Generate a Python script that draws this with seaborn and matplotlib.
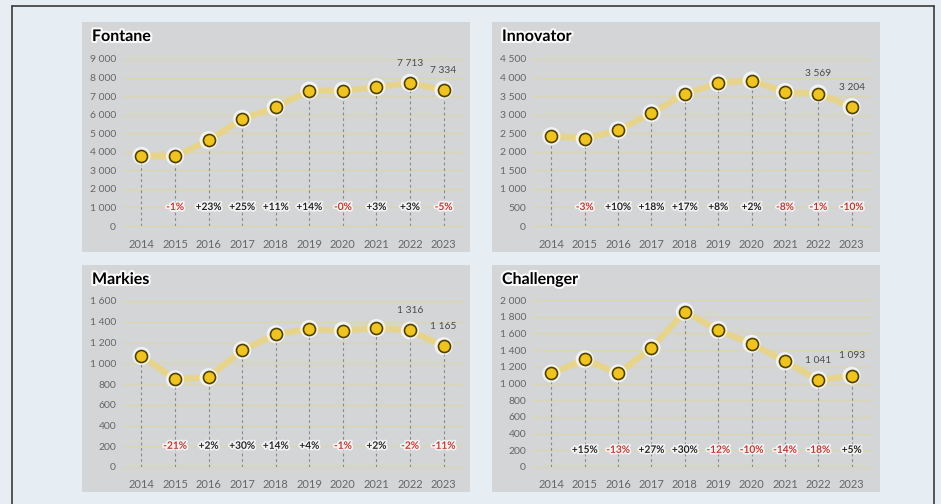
import pandas as pd
import matplotlib
matplotlib.use("Agg")
import matplotlib.pyplot as plt
import matplotlib.patheffects as pe
from matplotlib.patches import Rectangle
from matplotlib.lines import Line2D
import seaborn as sns

# data
years = [2014, 2015, 2016, 2017, 2018, 2019, 2020, 2021, 2022, 2023]
fontane = [3780, 3750, 4620, 5770, 6400, 7300, 7290, 7490, 7713, 7334]
innovator = [2420, 2350, 2580, 3040, 3560, 3850, 3920, 3610, 3569, 3204]
markies = [1070, 845, 865, 1125, 1280, 1330, 1315, 1340, 1316, 1165]
challenger = [1120, 1290, 1120, 1425, 1860, 1640, 1475, 1265, 1041, 1093]

fontane_pct = ["", "-1%", "+23%", "+25%", "+11%", "+14%", "-0%", "+3%", "+3%", "-5%"]
innovator_pct = ["", "-3%", "+10%", "+18%", "+17%", "+8%", "+2%", "-8%", "-1%", "-10%"]
markies_pct = ["", "-21%", "+2%", "+30%", "+14%", "+4%", "-1%", "+2%", "-2%", "-11%"]
challenger_pct = ["", "+15%", "-13%", "+27%", "+30%", "-12%", "-10%", "-14%", "-18%", "+5%"]

sns.set_theme(style="white")
plt.rcParams['font.family'] = ['Lato', 'DejaVu Sans']

W, H = 941, 504
fig = plt.figure(figsize=(W / 100, H / 100), dpi=100)
fig.patch.set_facecolor("#e7eef3")

def fx(x):
    return x / W

def fy(y):
    return 1 - y / H

# outer frame
for xs, ys in [([12, 12], [6, 504]), ([12, 934], [6, 6]), ([934, 934], [6, 504])]:
    fig.add_artist(Line2D([fx(v) for v in xs], [fy(v) for v in ys], color="#3a3a3a", lw=1.2))

panels = [
    # name, values, pct, ymax, step, pct_y, panel box (px), axes box (px)
    ("Fontane", fontane, fontane_pct, 9000, 1000, 1000, (82, 22, 470, 252), (123, 59, 462, 226)),
    ("Innovator", innovator, innovator_pct, 4500, 500, 500, (492, 22, 880, 252), (533, 59, 870, 226)),
    ("Markies", markies, markies_pct, 1600, 200, 200, (82, 265, 470, 492), (123, 301, 462, 467)),
    ("Challenger", challenger, challenger_pct, 2000, 200, 200, (492, 265, 880, 492), (533, 300, 870, 467)),
]

glow = [pe.withStroke(linewidth=2.5, foreground="white", alpha=0.7)]

for name, vals, pct, ymax, step, pct_y, pbox, abox in panels:
    x0, y0, x1, y1 = pbox
    fig.add_artist(Rectangle((fx(x0), fy(y1)), fx(x1 - x0), (y1 - y0) / H,
                             facecolor="#d3d5d7", edgecolor="none", zorder=0))
    fig.text(fx(x0 + 10), fy(y0 + 15), name, fontsize=11.5, fontweight="bold",
             color="black", va="center", ha="left",
             path_effects=[pe.withStroke(linewidth=3, foreground="white", alpha=0.9)])

    a0, b0, a1, b1 = abox
    ax = fig.add_axes([fx(a0), fy(b1), fx(a1 - a0), (b1 - b0) / H])
    ax.set_facecolor("none")

    df = pd.DataFrame({"pos": range(len(years)), "value": vals})

    ticks = list(range(0, ymax + 1, step))
    for t in ticks:
        ax.axhline(t, color="#dcd5b0", lw=1.0, zorder=1, clip_on=False)

    ax.vlines(df["pos"], 0, df["value"], colors="#8a8a8a", linestyles=(0, (2.5, 2.5)),
              lw=0.8, zorder=2)

    sns.lineplot(data=df, x="pos", y="value", ax=ax, color="#e9d488", lw=4.5,
                 alpha=0.95, zorder=3)
    sns.scatterplot(data=df, x="pos", y="value", ax=ax, s=170, color="white",
                    edgecolor="none", alpha=0.7, zorder=4, legend=False)
    sns.scatterplot(data=df, x="pos", y="value", ax=ax, s=75, color="#f0c420",
                    edgecolor="#504100", linewidth=1.2, zorder=5, legend=False)

    for i, p in enumerate(pct):
        if p:
            col = "#c0302a" if p.startswith("-") else "#1a1a1a"
            ax.text(i, pct_y, p, ha="center", va="center", fontsize=7.3, color=col,
                    fontweight="semibold", path_effects=glow, zorder=6)

    for i in (8, 9):
        ax.annotate(f"{vals[i]:,}".replace(",", " "), (i, vals[i]), xytext=(0, 11),
                    textcoords="offset points", ha="center", va="bottom",
                    fontsize=7.3, color="#4a4a4a", zorder=6)

    ax.set_xlim(-0.55, len(years) - 0.45)
    ax.set_ylim(0, ymax)
    ax.set_xticks(range(len(years)))
    ax.set_xticklabels([str(y) for y in years])
    ax.set_yticks(ticks)
    ax.set_yticklabels([f"{t:,}".replace(",", " ") for t in ticks])
    ax.tick_params(axis="both", length=0, labelsize=7.5, colors="#666666")
    ax.tick_params(axis="x", pad=9, labelsize=8)
    ax.tick_params(axis="y", pad=5)
    ax.set_xlabel("")
    ax.set_ylabel("")
    for s in ax.spines.values():
        s.set_visible(False)

fig.savefig("out.png", dpi=100, facecolor=fig.get_facecolor())
